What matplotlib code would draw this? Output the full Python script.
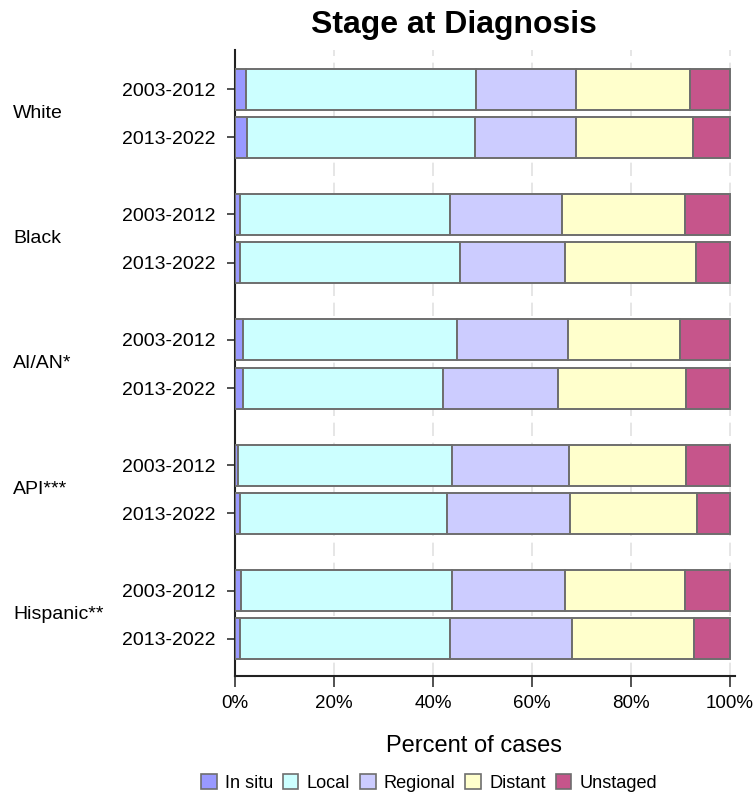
import numpy as np
import matplotlib.pyplot as plt
from matplotlib.patches import Patch
from matplotlib.transforms import blended_transform_factory

plt.rcParams['font.family'] = ['Liberation Sans', 'DejaVu Sans']

groups = ['White', 'Black', 'AI/AN*', 'API***', 'Hispanic**']
periods = ['2003-2012', '2013-2022']
stages = ['In situ', 'Local', 'Regional', 'Distant', 'Unstaged']
colors = ['#9999ff', '#ccffff', '#ccccff', '#ffffcc', '#c6558b']

# percent of cases, rows ordered group by group, period by period
in_situ = [2.3, 2.4, 1.1, 1.0, 1.6, 1.7, 0.6, 1.1, 1.3, 1.1]
local = [46.3, 46.0, 42.4, 44.5, 43.3, 40.3, 43.3, 41.7, 42.6, 42.4]
regional = [20.2, 20.5, 22.5, 21.2, 22.4, 23.3, 23.6, 24.9, 22.7, 24.5]
distant = [23.1, 23.7, 25.0, 26.5, 22.6, 25.8, 23.7, 25.6, 24.2, 24.7]
unstaged = [8.1, 7.4, 9.0, 6.8, 10.1, 8.9, 8.8, 6.7, 9.2, 7.3]

series = [in_situ, local, regional, distant, unstaged]

fig = plt.figure(figsize=(7.53, 7.98), dpi=100)
ax = fig.add_axes([235/753, 122/798, 500/753, 626/798])

gap = 2.6
ypos = []
for g in range(len(groups)):
    for k in range(len(periods)):
        ypos.append(g * gap + k)
ypos = np.array(ypos)

left = np.zeros(len(ypos))
for vals, c in zip(series, colors):
    vals = np.array(vals)
    ax.barh(ypos, vals, left=left, height=0.85, color=c,
            edgecolor='#6e6e6e', linewidth=1.4, zorder=3)
    left += vals

ax.set_xlim(0, 101)
ax.set_ylim(ypos[-1] + 0.77, -0.81)

ax.set_xticks([0, 20, 40, 60, 80, 100])
ax.set_xticklabels(['0%', '20%', '40%', '60%', '80%', '100%'], fontsize=13.5)
ax.set_yticks(ypos)
ax.set_yticklabels(periods * len(groups), fontsize=14)
ax.tick_params(axis='y', length=6, width=1.2, color='#333333', pad=8)
ax.tick_params(axis='x', length=8, width=1.2, color='#333333', pad=6)

ax.grid(axis='x', color='#e2e2e2', linestyle=(0, (8, 4)), linewidth=1.2, zorder=0)
ax.set_axisbelow(True)

for s in ['top', 'right']:
    ax.spines[s].set_visible(False)
for s in ['left', 'bottom']:
    ax.spines[s].set_linewidth(1.5)
    ax.spines[s].set_color('#222222')

trans = blended_transform_factory(fig.transFigure, ax.transData)
for g, name in enumerate(groups):
    ax.text(13/753, g * gap + 0.5, name, transform=trans, fontsize=14,
            ha='left', va='center')

fig.text(454/753, 1 - 25/798, 'Stage at Diagnosis', fontsize=23,
         fontweight='bold', ha='center', va='center')
fig.text(474/753, 1 - 746/798, 'Percent of cases', fontsize=17,
         ha='center', va='center')

handles = [Patch(facecolor=c, edgecolor='#6e6e6e', linewidth=1.2) for c in colors]
fig.legend(handles, stages, loc='center', bbox_to_anchor=(429/753, 1 - 783/798),
           ncol=5, frameon=False, fontsize=13.1, handlelength=0.85,
           handleheight=0.85, handletextpad=0.45, columnspacing=0.55,
           borderaxespad=0, borderpad=0)

fig.savefig('out.png', dpi=100)
